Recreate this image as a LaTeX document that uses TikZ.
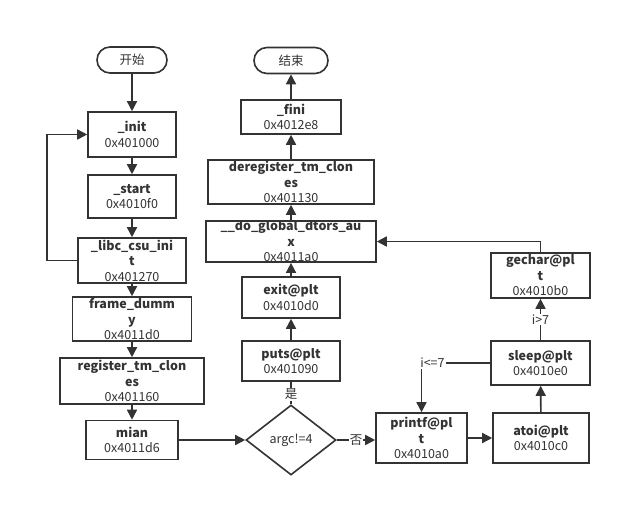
\documentclass[tikz,border=0pt]{standalone}
\usepackage{fontspec}
\setmainfont{Noto Sans CJK SC}
\usetikzlibrary{
    arrows.meta,
    positioning,
    shapes.geometric,
    shapes.misc
}
\definecolor{ink}{RGB}{51,51,51}
\tikzset{
    fnbox/.style={
        rectangle,
        draw=ink,
        line width=1.6pt,
        fill=white,
        text=ink,
        align=center,
        inner sep=0pt,
        font=\fontsize{12.5}{15.5}\selectfont
    },
    terminal/.style={
        rounded rectangle,
        draw=ink,
        line width=1.6pt,
        fill=white,
        text=ink,
        inner sep=0pt,
        minimum height=26pt,
        font=\fontsize{12.5}{15}\selectfont
    },
    decision/.style={
        diamond,
        draw=ink,
        line width=1.6pt,
        fill=white,
        text=ink,
        inner sep=0pt,
        minimum width=90pt,
        minimum height=70pt,
        font=\fontsize{12.5}{15}\selectfont
    },
    flow/.style={
        -{Triangle[width=10pt,length=10pt]},
        draw=ink,
        line width=1.6pt
    },
    plainflow/.style={
        draw=ink,
        line width=1.6pt
    },
    branch/.style={
        fill=white,
        text=ink,
        inner sep=1pt,
        font=\fontsize{12.5}{15}\selectfont
    }
}

\begin{document}
\begin{tikzpicture}[x=1pt, y=-1pt]
    \useasboundingbox[fill=white] (0,0) rectangle (623,506);

    % Startup chain
    \node[terminal, minimum width=70pt] (begin) at (132, 60) {开始};
    \node[fnbox, minimum width=88pt, minimum height=45pt] (init) at (132, 134.5) {\textbf{\_init}\\0x401000};
    \node[fnbox, minimum width=88pt, minimum height=43pt] (start) at (132, 196.5) {\textbf{\_start}\\0x4010f0};
    \node[fnbox, minimum width=108pt, minimum height=45pt] (libcinit) at (132, 260.5) {\textbf{\_libc\_csu\_ini}\\\textbf{t}\\0x401270};
    \node[fnbox, minimum width=119pt, minimum height=44pt] (framedummy) at (132, 319) {\textbf{frame\_dumm}\\\textbf{y}\\0x4011d0};
    \node[fnbox, minimum width=144pt, minimum height=46pt] (regtm) at (132, 381) {\textbf{register\_tm\_clon}\\\textbf{es}\\0x401160};
    \node[fnbox, minimum width=92pt, minimum height=39pt] (mian) at (132, 440) {\textbf{mian}\\0x4011d6};

    \draw[flow] (begin) -- (init);
    \draw[flow] (init) -- (start);
    \draw[flow] (start) -- (libcinit);
    \draw[flow] (libcinit) -- (framedummy);
    \draw[flow] (framedummy) -- (regtm);
    \draw[flow] (regtm) -- (mian);
    \draw[flow] (libcinit.west) -- ++(-30,0) |- (init.west);

    % Exit chain
    \node[terminal, minimum width=74pt] (finish) at (291, 60.5) {结束};
    \node[fnbox, minimum width=100pt, minimum height=34pt] (fini) at (291, 117) {\textbf{\_fini}\\0x4012e8};
    \node[fnbox, minimum width=166pt, minimum height=44pt] (deregtm) at (291, 182) {\textbf{deregister\_tm\_clon}\\\textbf{es}\\0x401130};
    \node[fnbox, minimum width=170pt, minimum height=41pt] (dtorsaux) at (291, 241.5) {\textbf{\_\_do\_global\_dtors\_au}\\\textbf{x}\\0x4011a0};
    \node[fnbox, minimum width=98pt, minimum height=41pt] (exitplt) at (291, 297.5) {\textbf{exit@plt}\\0x4010d0};
    \node[fnbox, minimum width=98pt, minimum height=40pt] (putsplt) at (291, 361) {\textbf{puts@plt}\\0x401090};
    \node[decision] (argc) at (291, 440) {argc!=4};

    \draw[flow] (mian) -- (argc);
    \draw[plainflow] (argc) -- node[branch, pos=0.45] {是} (putsplt);
    \draw[flow] (putsplt) -- (exitplt);
    \draw[flow] (exitplt) -- (dtorsaux);
    \draw[flow] (dtorsaux) -- (deregtm);
    \draw[flow] (deregtm) -- (fini);
    \draw[flow] (fini) -- (finish);

    % Loop branch
    \node[fnbox, minimum width=91pt, minimum height=50pt] (printfplt) at (421.5, 438) {\textbf{printf@pl}\\\textbf{t}\\0x4010a0};
    \node[fnbox, minimum width=96pt, minimum height=50pt] (atoiplt) at (541, 438) {\textbf{atoi@plt}\\0x4010c0};
    \node[fnbox, minimum width=99pt, minimum height=44pt] (sleepplt) at (540.5, 363) {\textbf{sleep@plt}\\0x4010e0};
    \node[fnbox, minimum width=99pt, minimum height=45pt] (gecharplt) at (540.5, 275.5) {\textbf{gechar@pl}\\\textbf{t}\\0x4010b0};

    \draw[flow] (argc.east) -- node[branch] {否} (argc.east -| printfplt.west);
    \draw[flow] (printfplt) -- (atoiplt);
    \draw[flow] (atoiplt) -- (sleepplt);
    \draw[flow] (sleepplt) -- node[branch] {i>7} (gecharplt);
    \draw[flow] (sleepplt.west) -| node[branch, pos=0.42] {i<=7} (printfplt.north);
    \draw[flow] (gecharplt.north) |- (dtorsaux.east);

\end{tikzpicture}
\end{document}
